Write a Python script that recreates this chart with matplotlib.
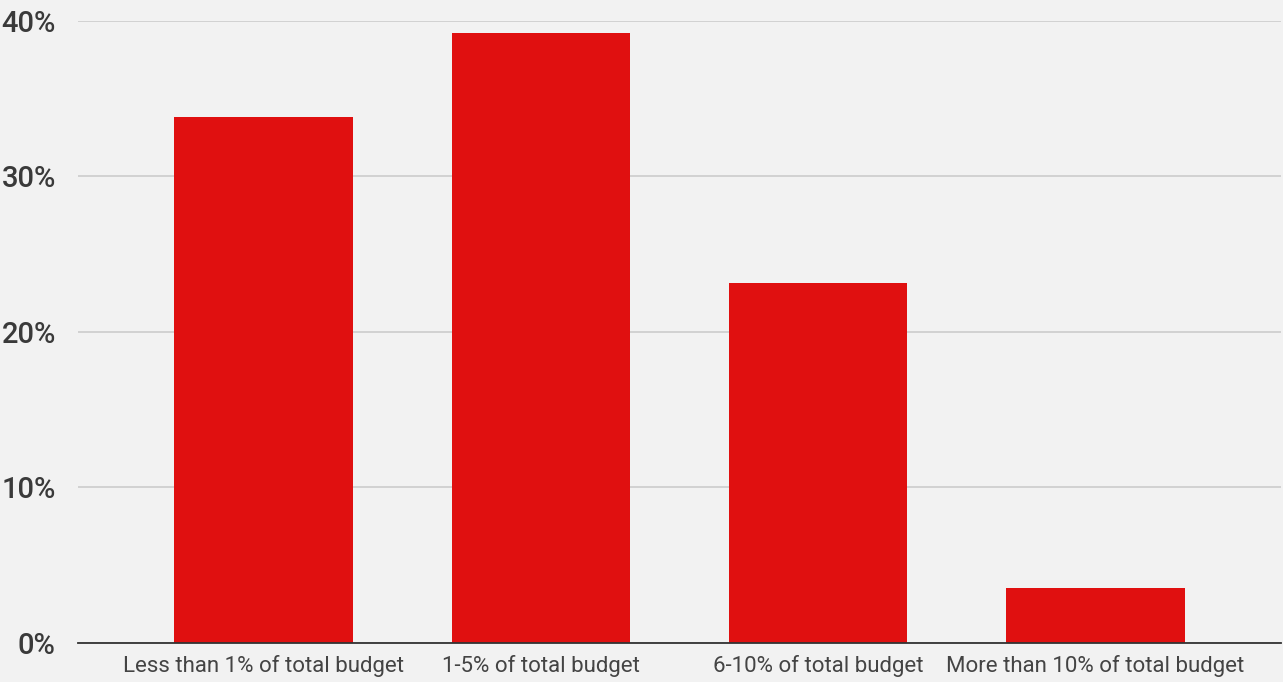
import matplotlib
matplotlib.use("Agg")
import matplotlib.pyplot as plt
from matplotlib.ticker import FuncFormatter, MultipleLocator

categories = [
    "Less than 1% of total budget",
    "1-5% of total budget",
    "6-10% of total budget",
    "More than 10% of total budget",
]
shares = [33.8, 39.2, 23.1, 3.5]

bg = "#f2f2f2"
bar_color = "#e01010"

fig = plt.figure(figsize=(12.83, 6.82), dpi=100, facecolor=bg)
ax = fig.add_axes([78 / 1283, (682 - 642.7) / 682, (1281 - 78) / 1283, (642.7 - 20.5) / 682])
ax.set_facecolor(bg)

x = list(range(len(categories)))
ax.bar(x, shares, width=0.645, color=bar_color, zorder=3)

ax.set_xlim(-0.670, 3.670)
ax.set_ylim(0, 40)
ax.yaxis.set_major_locator(MultipleLocator(10))
ax.yaxis.set_major_formatter(FuncFormatter(lambda v, _: f"{v:.0f}%"))
ax.grid(axis="y", color="#cccccc", linewidth=1.2, zorder=0)
ax.set_axisbelow(True)

for side in ("top", "right", "left"):
    ax.spines[side].set_visible(False)
ax.spines["bottom"].set_color("#333333")
ax.spines["bottom"].set_linewidth(1.3)
ax.spines["bottom"].set_zorder(4)

ax.set_xticks(x)
ax.set_xticklabels(categories, fontsize=16, color="#444444", family="Roboto")
ax.tick_params(axis="x", length=0, pad=9)
ax.tick_params(axis="y", length=0, pad=16, labelsize=21, labelcolor="#3a3a3a")
for lbl in ax.get_yticklabels():
    lbl.set_family("Roboto")
    lbl.set_fontweight("medium")

fig.savefig("out.png", dpi=100, facecolor=bg)
